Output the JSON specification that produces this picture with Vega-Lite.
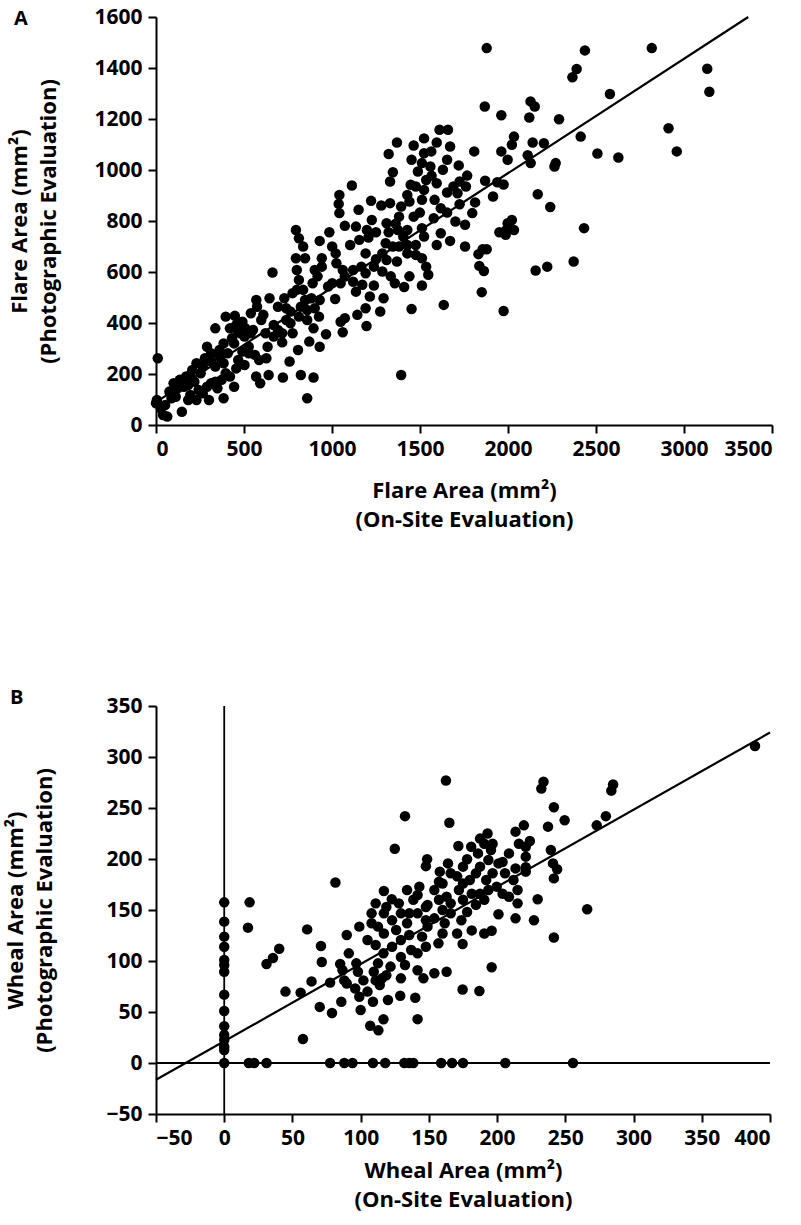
{
  "$schema": "https://vega.github.io/schema/vega-lite/v6.json",
  "padding": {"left": 4, "top": 6, "right": 4, "bottom": 4},
  "background": "white",
  "spacing": 158,
  "datasets": {
    "flare": [
      {"x":1879,"y":1478},{"x":2437,"y":1469},{"x":2817,"y":1478},{"x":2390,"y":1396},{"x":2366,"y":1364},{"x":3132,"y":1397},{"x":3144,"y":1307},{"x":2579,"y":1298},{"x":1868,"y":1249},{"x":2128,"y":1269},
      {"x":2152,"y":1249},{"x":2121,"y":1206},{"x":1962,"y":1215},{"x":2290,"y":1199},{"x":2912,"y":1164},{"x":2959,"y":1073},{"x":2508,"y":1065},{"x":2627,"y":1049},{"x":2413,"y":1131},{"x":2034,"y":1131},
      {"x":2022,"y":1099},{"x":2140,"y":1108},{"x":2204,"y":1105},{"x":1962,"y":1073},{"x":1998,"y":1040},{"x":2112,"y":1058},{"x":2129,"y":1027},{"x":2271,"y":1027},{"x":2264,"y":1014},{"x":1808,"y":1073},
      {"x":1939,"y":952},{"x":1870,"y":958},{"x":1975,"y":943},{"x":1915,"y":896},{"x":2169,"y":905},{"x":2240,"y":855},{"x":2432,"y":772},{"x":2373,"y":641},{"x":2223,"y":621},{"x":2157,"y":606},
      {"x":1856,"y":689},{"x":1879,"y":689},{"x":1832,"y":670},{"x":1837,"y":624},{"x":1863,"y":604},{"x":1851,"y":521},{"x":1975,"y":447},{"x":1951,"y":756},{"x":1987,"y":746},{"x":1998,"y":791},
      {"x":2022,"y":804},{"x":1991,"y":765},{"x":2034,"y":765},{"x":1369,"y":1108},{"x":1322,"y":1063},{"x":1346,"y":991},{"x":1330,"y":955},{"x":1464,"y":1096},{"x":1523,"y":1124},{"x":1611,"y":1158},
      {"x":1659,"y":1158},{"x":1595,"y":1108},{"x":1564,"y":1073},{"x":1671,"y":1092},{"x":1452,"y":1040},{"x":1511,"y":1027},{"x":1559,"y":1014},{"x":1720,"y":1018},{"x":1768,"y":978},{"x":1725,"y":955},
      {"x":1690,"y":935},{"x":1654,"y":912},{"x":1447,"y":942},{"x":1535,"y":961},{"x":1566,"y":977},{"x":1428,"y":902},{"x":1511,"y":883},{"x":1583,"y":883},{"x":1499,"y":833},{"x":1578,"y":811},
      {"x":1701,"y":798},{"x":1756,"y":785},{"x":1725,"y":866},{"x":1813,"y":873},{"x":1797,"y":831},{"x":1511,"y":772},{"x":1523,"y":739},{"x":1595,"y":706},{"x":1671,"y":722},{"x":1756,"y":700},
      {"x":1476,"y":706},{"x":1428,"y":673},{"x":1476,"y":667},{"x":1511,"y":654},{"x":1535,"y":621},{"x":1547,"y":589},{"x":1440,"y":583},{"x":1410,"y":541},{"x":1511,"y":547},{"x":1452,"y":455},
      {"x":1635,"y":471},{"x":1393,"y":196},{"x":1113,"y":939},{"x":1042,"y":902},{"x":1038,"y":867},{"x":1042,"y":831},{"x":1222,"y":879},{"x":1151,"y":844},{"x":1280,"y":861},{"x":1330,"y":870},
      {"x":1226,"y":804},{"x":1073,"y":781},{"x":1136,"y":778},{"x":1198,"y":765},{"x":1250,"y":756},{"x":1322,"y":756},{"x":1374,"y":765},{"x":1362,"y":789},{"x":1103,"y":706},{"x":1155,"y":726},
      {"x":1207,"y":735},{"x":1305,"y":713},{"x":1381,"y":700},{"x":1191,"y":673},{"x":1250,"y":650},{"x":1310,"y":647},{"x":1369,"y":641},{"x":1120,"y":608},{"x":1167,"y":621},{"x":1286,"y":602},
      {"x":1334,"y":583},{"x":1357,"y":556},{"x":1238,"y":547},{"x":1172,"y":550},{"x":1136,"y":523},{"x":1215,"y":504},{"x":1293,"y":497},{"x":1274,"y":445},{"x":1191,"y":458},{"x":1144,"y":432},
      {"x":1196,"y":388},{"x":1073,"y":419},{"x":1049,"y":405},{"x":1061,"y":364},{"x":1018,"y":494},{"x":1001,"y":700},{"x":985,"y":756},{"x":1021,"y":673},{"x":1025,"y":634},{"x":1061,"y":608},
      {"x":1049,"y":556},{"x":978,"y":543},{"x":795,"y":765},{"x":812,"y":732},{"x":836,"y":700},{"x":930,"y":722},{"x":942,"y":654},{"x":795,"y":654},{"x":847,"y":654},{"x":800,"y":608},
      {"x":812,"y":569},{"x":902,"y":608},{"x":918,"y":583},{"x":942,"y":621},{"x":890,"y":556},{"x":836,"y":530},{"x":800,"y":530},{"x":776,"y":517},{"x":729,"y":497},{"x":883,"y":497},
      {"x":930,"y":490},{"x":902,"y":458},{"x":859,"y":451},{"x":926,"y":425},{"x":895,"y":379},{"x":966,"y":356},{"x":930,"y":307},{"x":871,"y":327},{"x":807,"y":294},{"x":759,"y":249},
      {"x":717,"y":324},{"x":740,"y":412},{"x":764,"y":399},{"x":812,"y":425},{"x":662,"y":598},{"x":645,"y":497},{"x":570,"y":490},{"x":539,"y":438},{"x":610,"y":432},{"x":574,"y":464},
      {"x":669,"y":392},{"x":693,"y":373},{"x":634,"y":307},{"x":627,"y":262},{"x":569,"y":190},{"x":592,"y":164},{"x":640,"y":196},{"x":721,"y":186},{"x":823,"y":196},{"x":895,"y":186},
      {"x":859,"y":105},{"x":479,"y":360},{"x":508,"y":379},{"x":448,"y":428},{"x":396,"y":425},{"x":337,"y":379},{"x":420,"y":379},{"x":290,"y":307},{"x":361,"y":294},{"x":444,"y":320},
      {"x":527,"y":307},{"x":491,"y":288},{"x":562,"y":275},{"x":586,"y":255},{"x":503,"y":235},{"x":444,"y":150},{"x":384,"y":105},{"x":301,"y":98},{"x":349,"y":144},{"x":373,"y":177},
      {"x":420,"y":190},{"x":384,"y":242},{"x":313,"y":249},{"x":337,"y":229},{"x":278,"y":262},{"x":254,"y":203},{"x":195,"y":196},{"x":218,"y":170},{"x":159,"y":150},{"x":123,"y":144},
      {"x":112,"y":111},{"x":183,"y":98},{"x":147,"y":52},{"x":64,"y":33},{"x":28,"y":65},{"x":5,"y":98},{"x":0,"y":85},{"x":10,"y":262},{"x":88,"y":105},{"x":195,"y":118},
      {"x":242,"y":137},{"x":290,"y":150},{"x":337,"y":170},{"x":396,"y":203},{"x":456,"y":222},{"x":467,"y":255},{"x":527,"y":281},{"x":539,"y":360},{"x":408,"y":281},{"x":361,"y":268},
      {"x":313,"y":164},{"x":266,"y":124},{"x":230,"y":98},{"x":183,"y":157},{"x":467,"y":366},{"x":491,"y":405},{"x":456,"y":392},{"x":503,"y":347},{"x":551,"y":373},{"x":598,"y":412},
      {"x":622,"y":360},{"x":669,"y":347},{"x":717,"y":360},{"x":776,"y":360},{"x":859,"y":412},{"x":847,"y":490},{"x":823,"y":464},{"x":764,"y":445},{"x":740,"y":458},{"x":693,"y":464},
      {"x":432,"y":340},{"x":384,"y":320},{"x":313,"y":281},{"x":266,"y":229},{"x":230,"y":242},{"x":206,"y":216},{"x":171,"y":190},{"x":135,"y":177},{"x":100,"y":164},{"x":76,"y":131},
      {"x":52,"y":78},{"x":40,"y":39},{"x":1001,"y":556},{"x":1073,"y":582},{"x":1120,"y":562},{"x":1191,"y":595},{"x":1238,"y":621},{"x":1286,"y":673},{"x":1345,"y":700},{"x":1405,"y":739},
      {"x":1428,"y":765},{"x":1464,"y":817},{"x":1381,"y":817},{"x":1310,"y":791},{"x":1428,"y":706},{"x":1618,"y":752},{"x":1654,"y":833},{"x":1618,"y":850},{"x":1713,"y":909},{"x":1761,"y":935},
      {"x":1476,"y":935},{"x":1523,"y":922},{"x":1595,"y":948},{"x":1630,"y":1001},{"x":1654,"y":1040},{"x":1523,"y":1066},{"x":1488,"y":994},{"x":1393,"y":857},{"x":1440,"y":876}
    ],
    "flareFit": [{"x":0,"y":90},{"x":3365,"y":1600}],
    "wheal": [
      {"x":0,"y":157.5},{"x":0,"y":138.6},{"x":0,"y":123.9},{"x":0,"y":114},{"x":0,"y":101},{"x":0,"y":96},{"x":0,"y":89.5},{"x":0,"y":67},{"x":0,"y":51},{"x":0,"y":36},
      {"x":0,"y":27.5},{"x":0,"y":22.5},{"x":0,"y":16},{"x":0,"y":12.7},{"x":0,"y":0},
      {"x":18,"y":0},{"x":22,"y":0},{"x":31,"y":0},{"x":77.6,"y":0},{"x":88,"y":0},{"x":94,"y":0},{"x":109,"y":0},{"x":118,"y":0},{"x":132,"y":0},{"x":135.6,"y":0},
      {"x":138.6,"y":0},{"x":159,"y":0},{"x":167,"y":0},{"x":175,"y":0},{"x":206,"y":0},{"x":255.6,"y":0},
      {"x":18.6,"y":157.5},{"x":17.4,"y":132.7},{"x":31,"y":97},{"x":35.7,"y":103},{"x":40.3,"y":112},{"x":44.9,"y":70},{"x":56,"y":69},{"x":64,"y":80},{"x":57.7,"y":23.5},{"x":60.8,"y":131},
      {"x":70.9,"y":114.7},{"x":71.5,"y":99},{"x":70,"y":55},{"x":79,"y":49},{"x":85.8,"y":60},{"x":81.5,"y":177},{"x":100,"y":52},{"x":107,"y":36.6},{"x":113,"y":32},{"x":116.7,"y":42.8},
      {"x":109,"y":60},{"x":120,"y":61.8},{"x":129,"y":66},{"x":140,"y":64},{"x":141.7,"y":43},{"x":125,"y":210},{"x":132.5,"y":242},{"x":162.5,"y":277},{"x":165,"y":235.6},{"x":171.6,"y":212.7},
      {"x":178,"y":199.7},{"x":148.7,"y":199.7},{"x":147.8,"y":193},{"x":158,"y":187.6},{"x":164,"y":195.7},{"x":117,"y":168.6},{"x":122.8,"y":160.5},{"x":111,"y":156.5},{"x":108,"y":146.7},{"x":99,"y":133.7},
      {"x":89.8,"y":125.5},{"x":91.3,"y":107.5},{"x":85,"y":97},{"x":96.8,"y":97.7},{"x":98,"y":89.5},{"x":88,"y":81},{"x":77.6,"y":78.8},{"x":96,"y":73},{"x":105,"y":70},{"x":114,"y":76.5},
      {"x":115.7,"y":83},{"x":109.6,"y":89.5},{"x":112.7,"y":97.7},{"x":116.7,"y":107.5},{"x":111,"y":115.7},{"x":105,"y":120.6},{"x":108,"y":137},{"x":117,"y":146.7},{"x":128,"y":156.5},{"x":134,"y":169.6},
      {"x":141.7,"y":164.7},{"x":143,"y":172.9},{"x":154,"y":169.6},{"x":157.4,"y":177.8},{"x":166,"y":186},{"x":175,"y":192.5},{"x":180,"y":179.4},{"x":172,"y":169.6},{"x":163,"y":163},{"x":160,"y":150},
      {"x":149,"y":155},{"x":141.7,"y":146.7},{"x":134,"y":137},{"x":126,"y":130.4},{"x":129.5,"y":120.6},{"x":123,"y":114},{"x":129.5,"y":104},{"x":137,"y":110.8},{"x":145,"y":123.9},{"x":149,"y":133.7},
      {"x":154,"y":141.8},{"x":161.6,"y":137},{"x":166,"y":146.7},{"x":173.8,"y":140},{"x":178,"y":148},{"x":184.5,"y":155},{"x":190.6,"y":160},{"x":187.5,"y":166},{"x":193.6,"y":169.6},{"x":199.7,"y":172.9},
      {"x":192,"y":179.4},{"x":196.7,"y":186},{"x":201,"y":195.7},{"x":193.6,"y":199},{"x":186,"y":205.5},{"x":181,"y":212},{"x":187.5,"y":220},{"x":193,"y":225},{"x":190.6,"y":215},{"x":195.5,"y":208.8},
      {"x":213.5,"y":226.8},{"x":219.6,"y":233},{"x":216,"y":215},{"x":224,"y":217.7},{"x":221,"y":202.3},{"x":213.5,"y":190.8},{"x":221,"y":187.6},{"x":212,"y":179.4},{"x":208.7,"y":163},{"x":215,"y":156.5},
      {"x":229.7,"y":160.5},{"x":213.5,"y":141.8},{"x":227,"y":140},{"x":201,"y":145.8},{"x":196,"y":129.7},{"x":190.6,"y":127},{"x":174.7,"y":116.7},{"x":163,"y":89.5},{"x":196,"y":93.8},{"x":174.7,"y":72},
      {"x":187,"y":70.6},{"x":241.6,"y":123},{"x":266,"y":150.7},{"x":241.6,"y":181},{"x":244,"y":190},{"x":241,"y":195.7},{"x":239.4,"y":208.8},{"x":237.3,"y":231.7},{"x":249.5,"y":238},{"x":241.6,"y":250.7},
      {"x":232.4,"y":269},{"x":234,"y":275.8},{"x":273,"y":233},{"x":279.7,"y":242},{"x":283.7,"y":267},{"x":285,"y":273},{"x":389,"y":310.8},{"x":221,"y":192},{"x":215,"y":169.6},{"x":205.8,"y":186},
      {"x":204,"y":166},{"x":181.4,"y":130},{"x":170.7,"y":127},{"x":157,"y":117.3},{"x":147.8,"y":114},{"x":141.7,"y":107.5},{"x":132.5,"y":96},{"x":121.9,"y":94.5},{"x":141.7,"y":91},{"x":154,"y":88},
      {"x":146,"y":83},{"x":129.5,"y":83},{"x":102,"y":81},{"x":86.7,"y":91},{"x":89.8,"y":78},{"x":99,"y":65},{"x":111,"y":81},{"x":118.8,"y":86},{"x":135.6,"y":125.5},{"x":160,"y":127},
      {"x":147.8,"y":140},{"x":135.6,"y":146.7},{"x":123,"y":140},{"x":117,"y":127},{"x":112.7,"y":133.7},{"x":118.8,"y":153},{"x":129.5,"y":146.7},{"x":138.6,"y":160},{"x":147.8,"y":153},{"x":157.4,"y":160},
      {"x":166,"y":156.5},{"x":175,"y":160},{"x":181.4,"y":166},{"x":184.5,"y":186},{"x":170.7,"y":183},{"x":160,"y":176},{"x":175,"y":176},{"x":187.5,"y":192.5},{"x":204,"y":197},{"x":208.7,"y":205.5},
      {"x":221,"y":212},{"x":196.7,"y":215}
    ],
    "whealFit": [{"x":-50,"y":-16.5},{"x":400,"y":324}],
    "origin": [{"x":0,"y":0}]
  },
  "vconcat": [
    {
      "width": 616,
      "height": 408,
      "title": {"text": "A", "anchor": "start", "frame": "bounds", "fontSize": 20, "fontWeight": "bold", "font": "Open Sans", "dy": 27, "dx": 5},
      "layer": [
        {
          "data": {"name": "flare"},
          "mark": {"type": "circle", "color": "black", "size": 110, "opacity": 1},
          "encoding": {
            "x": {"field": "x", "type": "quantitative", "scale": {"domain": [0, 3500], "nice": false, "zero": false},
                  "axis": {"values": [0, 500, 1000, 1500, 2000, 2500, 3000, 3500], "format": "d", "title": ["Flare Area (mm²)", "(On-Site Evaluation)"], "titlePadding": 21}},
            "y": {"field": "y", "type": "quantitative", "scale": {"domain": [0, 1600], "nice": false, "zero": false},
                  "axis": {"values": [0, 200, 400, 600, 800, 1000, 1200, 1400, 1600], "format": "d", "title": ["Flare Area (mm²)", "(Photographic Evaluation)"], "titlePadding": 33}}
          }
        },
        {
          "data": {"name": "flareFit"},
          "mark": {"type": "line", "color": "black", "strokeWidth": 2.2},
          "encoding": {
            "x": {"field": "x", "type": "quantitative"},
            "y": {"field": "y", "type": "quantitative"}
          }
        }
      ]
    },
    {
      "width": 614,
      "height": 408,
      "title": {"text": "B", "anchor": "start", "frame": "bounds", "fontSize": 20, "fontWeight": "bold", "font": "Open Sans", "dy": 17, "dx": 5},
      "layer": [
        {
          "data": {"name": "wheal"},
          "mark": {"type": "circle", "color": "black", "size": 110, "opacity": 1},
          "encoding": {
            "x": {"field": "x", "type": "quantitative", "scale": {"domain": [-50, 400], "nice": false, "zero": false},
                  "axis": {"values": [-50, 0, 50, 100, 150, 200, 250, 300, 350, 400], "format": "d", "title": ["Wheal Area (mm²)", "(On-Site Evaluation)"], "titlePadding": 12}},
            "y": {"field": "y", "type": "quantitative", "scale": {"domain": [-50, 350], "nice": false, "zero": false},
                  "axis": {"values": [-50, 0, 50, 100, 150, 200, 250, 300, 350], "format": "d", "title": ["Wheal Area (mm²)", "(Photographic Evaluation)"], "titlePadding": 49}}
          }
        },
        {
          "data": {"name": "whealFit"},
          "mark": {"type": "line", "color": "black", "strokeWidth": 2.2},
          "encoding": {
            "x": {"field": "x", "type": "quantitative"},
            "y": {"field": "y", "type": "quantitative"}
          }
        },
        {
          "data": {"name": "origin"},
          "mark": {"type": "rule", "color": "black", "strokeWidth": 1.8},
          "encoding": {"x": {"field": "x", "type": "quantitative"}}
        },
        {
          "data": {"name": "origin"},
          "mark": {"type": "rule", "color": "black", "strokeWidth": 1.8},
          "encoding": {"y": {"field": "y", "type": "quantitative"}}
        }
      ]
    }
  ],
  "config": {
    "view": {"stroke": null},
    "font": "Open Sans",
    "axis": {
      "grid": false,
      "domainColor": "black", "domainWidth": 2,
      "tickColor": "black", "tickWidth": 2, "tickSize": 8,
      "labelFont": "Open Sans", "labelFontSize": 21, "labelFontWeight": "bold", "labelColor": "black", "labelPadding": 5,
      "titleFont": "Open Sans", "titleFontSize": 22, "titleFontWeight": "bold", "titleColor": "black", "titleLineHeight": 29
    },
    "axisY": {"labelPadding": 6}
  }
}
